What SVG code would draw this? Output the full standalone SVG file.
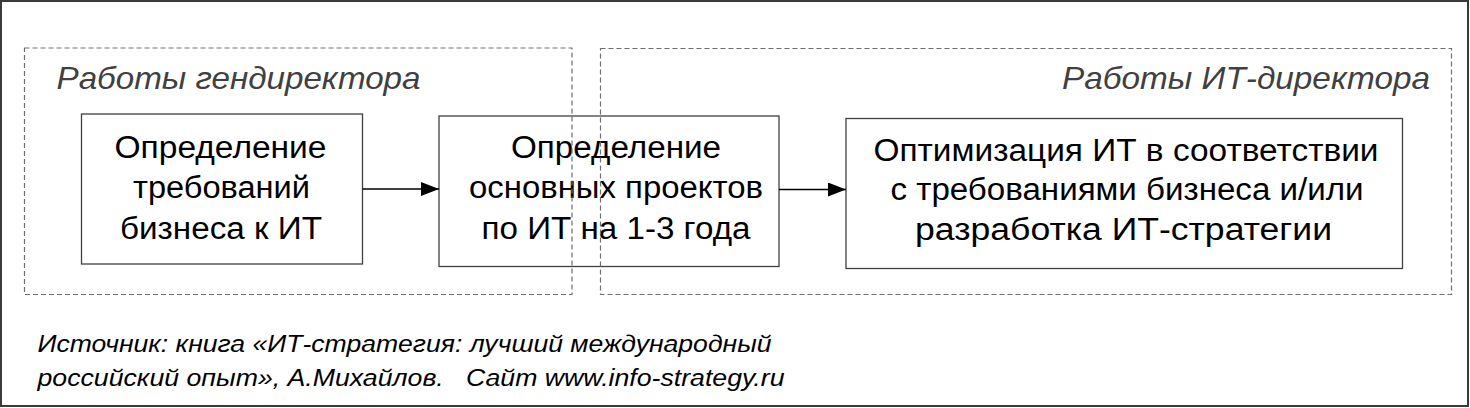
<svg xmlns="http://www.w3.org/2000/svg" width="1470" height="408" viewBox="0 0 1470 408">
<style>
.frame{fill:#fff;stroke:#3a3a3a;stroke-width:2}
.grp{fill:none;stroke:#707070;stroke-width:1.2;stroke-dasharray:5 3}
.box{fill:#fff;stroke:#404040;stroke-width:1.3}
.bt{font-family:"Liberation Sans",Arial,sans-serif;font-size:31px;fill:#000;text-anchor:middle}
.hd{font-family:"Liberation Sans",Arial,sans-serif;font-size:32px;font-style:italic;fill:#404040}
.ft{font-family:"Liberation Sans",Arial,sans-serif;font-size:24.5px;font-style:italic;fill:#000;white-space:pre}
.conn{stroke:#000;stroke-width:1.3;fill:none}
</style>
<defs>
<marker id="arr" viewBox="0 0 18 14" refX="18" refY="7" markerWidth="18" markerHeight="14" markerUnits="userSpaceOnUse" orient="auto">
<path d="M0,0 L18,7 L0,14 Z" fill="#000"/>
</marker>
</defs>
<rect class="frame" x="1" y="1" width="1467" height="405"/>
<g id="node-requirements">
<rect class="box" x="81.5" y="114" width="281" height="150"/>
<text class="bt" x="220.5" y="158" textLength="212" lengthAdjust="spacingAndGlyphs">Определение</text>
<text class="bt" x="221.5" y="198" textLength="177" lengthAdjust="spacingAndGlyphs">требований</text>
<text class="bt" x="221" y="239" textLength="202" lengthAdjust="spacingAndGlyphs">бизнеса к ИТ</text>
</g>
<g id="node-projects">
<rect class="box" x="439" y="116" width="340" height="150.5"/>
<text class="bt" x="616" y="158" textLength="210" lengthAdjust="spacingAndGlyphs">Определение</text>
<text class="bt" x="616" y="197.5" textLength="294" lengthAdjust="spacingAndGlyphs">основных проектов</text>
<text class="bt" x="616" y="238.5" textLength="269" lengthAdjust="spacingAndGlyphs">по ИТ на 1-3 года</text>
</g>
<g id="node-optimization">
<rect class="box" x="846" y="118.5" width="556.5" height="150"/>
<text class="bt" x="1126" y="160.5" textLength="505" lengthAdjust="spacingAndGlyphs">Оптимизация ИТ в соответствии</text>
<text class="bt" x="1127" y="200" textLength="473" lengthAdjust="spacingAndGlyphs">с требованиями бизнеса и/или</text>
<text class="bt" x="1123.5" y="239.5" textLength="417" lengthAdjust="spacingAndGlyphs">разработка ИТ-стратегии</text>
</g>
<g id="group-ceo">
<rect class="grp" x="24.5" y="48" width="547.5" height="246.5"/>
<text class="hd" x="56.5" y="89.3" textLength="364" lengthAdjust="spacingAndGlyphs">Работы гендиректора</text>
</g>
<g id="group-cio">
<rect class="grp" x="600.5" y="48.5" width="851" height="246"/>
<text class="hd" x="1062" y="89.3" textLength="368" lengthAdjust="spacingAndGlyphs">Работы ИТ-директора</text>
</g>
<g id="connectors">
<line class="conn" x1="362.5" y1="189" x2="439" y2="189" marker-end="url(#arr)"/>
<line class="conn" x1="779" y1="189.5" x2="846" y2="189.5" marker-end="url(#arr)"/>
</g>
<g id="source">
<text class="ft" x="37.5" y="352" textLength="734" lengthAdjust="spacingAndGlyphs">Источник: книга «ИТ-стратегия: лучший международный</text>
<text class="ft" x="37.5" y="386" textLength="747" lengthAdjust="spacingAndGlyphs">российский опыт», А.Михайлов.   Сайт www.info-strategy.ru</text>
</g>
</svg>
